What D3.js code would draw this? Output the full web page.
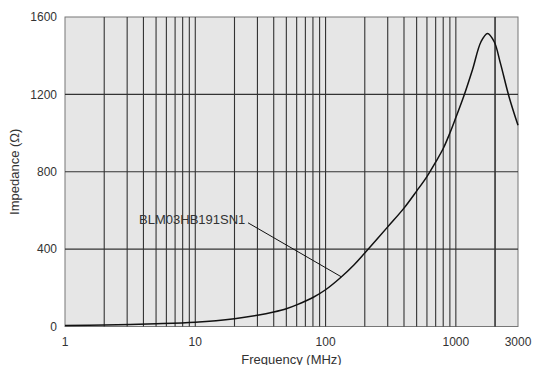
<!DOCTYPE html>
<html>
<head>
<meta charset="utf-8">
<script src="https://cdn.jsdelivr.net/npm/d3@7"></script>
<style>
  body { margin: 0; background: #fff; }
  text { font-family: "Liberation Sans", Arial, sans-serif; fill: #333; }
</style>
</head>
<body>
<svg id="chart"></svg>
<script>
let width = 533;
let height = 365;
let margin = {"top": 17, "bottom": 38.5, "left": 65, "right": 15};

// frequency (MHz) and impedance (ohm)
const freq = [1, 2, 5, 10, 20, 30, 40, 50, 60, 80, 100, 130, 165, 200, 300, 400, 500, 600, 700, 800, 900, 1000, 1150, 1340, 1560, 1750, 1970, 2200, 2560, 3000];
const impedance = [5, 8, 14, 22, 40, 58, 75, 92, 112, 150, 190, 252, 318, 380, 515, 612, 700, 775, 850, 920, 1000, 1080, 1190, 1326, 1472, 1515, 1472, 1360, 1188, 1040];

const xTicks = [1, 10, 100, 1000, 3000];
const yTicks = [0, 400, 800, 1200, 1600];
const partName = "BLM03HB191SN1";

let svg = d3.select("#chart")
    .attr("width", width)
    .attr("height", height);

let x = d3.scaleLog()
    .domain([1, 3000])
    .range([margin.left, width - margin.right]);
let y = d3.scaleLinear()
    .domain([0, 1600])
    .range([height - margin.bottom, margin.top]);

// plot background
svg.append("rect")
    .attr("x", x(1))
    .attr("y", y(1600))
    .attr("width", x(3000) - x(1))
    .attr("height", y(0) - y(1600))
    .style("fill", "#e6e6e6")
    .style("stroke", "#777")
    .style("stroke-width", 1);

// vertical grid: 2..9 of each decade
let gridX = [];
for (let dec = 1; dec <= 1000; dec *= 10) {
    for (let m = 1; m <= 9; m++) {
        let v = dec * m;
        if (v > 1 && v < 3000) gridX.push(v);
    }
}
gridX.push(2000);

svg.append("g").selectAll("line")
    .data(gridX)
    .enter().append("line")
    .attr("x1", (d) => x(d))
    .attr("x2", (d) => x(d))
    .attr("y1", y(0))
    .attr("y2", y(1600))
    .style("stroke", "#333")
    .style("stroke-width", 1.1);

svg.append("g").selectAll("line")
    .data([400, 800, 1200])
    .enter().append("line")
    .attr("x1", x(1))
    .attr("x2", x(3000))
    .attr("y1", (d) => y(d))
    .attr("y2", (d) => y(d))
    .style("stroke", "#333")
    .style("stroke-width", 1.1);

// tick labels
svg.append("g").selectAll("text")
    .data(yTicks)
    .enter().append("text")
    .attr("x", x(1) - 8)
    .attr("y", (d) => y(d))
    .attr("dy", "0.35em")
    .attr("text-anchor", "end")
    .style("font-size", "12px")
    .text((d) => d);

svg.append("g").selectAll("text")
    .data(xTicks)
    .enter().append("text")
    .attr("x", (d) => x(d))
    .attr("y", y(0) + 19)
    .attr("text-anchor", "middle")
    .style("font-size", "12px")
    .text((d) => d);

// axis titles
svg.append("text")
    .attr("x", (x(1) + x(3000)) / 2)
    .attr("y", height - 1.5)
    .attr("text-anchor", "middle")
    .style("font-size", "13px")
    .text("Frequency (MHz)");

svg.append("text")
    .attr("transform", `translate(18.5, ${(y(0) + y(1600)) / 2}) rotate(-90)`)
    .attr("text-anchor", "middle")
    .style("font-size", "13px")
    .text("Impedance (Ω)");

// impedance curve
let data = freq.map((f, i) => ({f: f, z: impedance[i]}));
let line = d3.line()
    .x((d) => x(d.f))
    .y((d) => y(d.z))
    .curve(d3.curveCatmullRom.alpha(0.5));

svg.append("path")
    .datum(data)
    .attr("d", line)
    .style("fill", "none")
    .style("stroke", "#111")
    .style("stroke-width", 1.5);

// part label with leader line
svg.append("line")
    .attr("x1", x(25.4))
    .attr("y1", y(536))
    .attr("x2", x(132))
    .attr("y2", y(257))
    .style("stroke", "#111")
    .style("stroke-width", 1);

svg.append("text")
    .attr("x", x(24.2))
    .attr("y", y(536))
    .attr("dy", "0.1em")
    .attr("text-anchor", "end")
    .style("font-size", "13px")
    .text(partName);
</script>
</body>
</html>
